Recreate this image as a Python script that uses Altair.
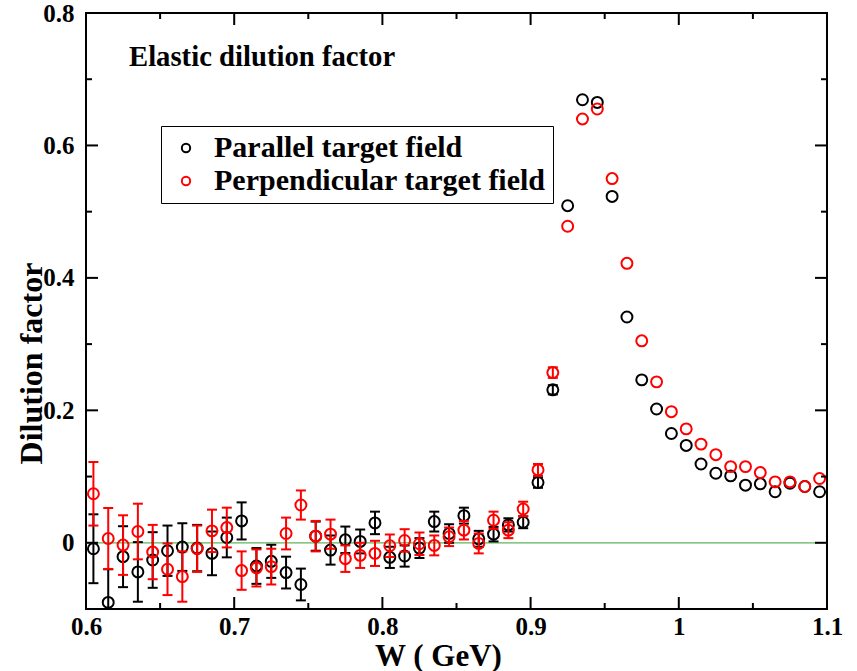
import altair as alt
import pandas as pd

W = [0.605, 0.615, 0.625, 0.635, 0.645, 0.655, 0.665, 0.675, 0.685, 0.695,
     0.705, 0.715, 0.725, 0.735, 0.745, 0.755, 0.765, 0.775, 0.785, 0.795,
     0.805, 0.815, 0.825, 0.835, 0.845, 0.855, 0.865, 0.875, 0.885, 0.895,
     0.905, 0.915, 0.925, 0.935, 0.945, 0.955, 0.965, 0.975, 0.985, 0.995,
     1.005, 1.015, 1.025, 1.035, 1.045, 1.055, 1.065, 1.075, 1.085, 1.095]

par = [-0.009, -0.090, -0.021, -0.044, -0.026, -0.012, -0.0065, -0.008, -0.016, 0.008,
       0.033, -0.035, -0.028, -0.045, -0.063, 0.010, -0.011, 0.0045, 0.002, 0.030,
       -0.022, -0.020, -0.008, 0.032, 0.014, 0.041, 0.006, 0.013, 0.027, 0.031,
       0.091, 0.231, 0.509, 0.669, 0.665, 0.523, 0.341, 0.246, 0.202, 0.165,
       0.147, 0.119, 0.105, 0.101, 0.087, 0.089, 0.077, 0.090, 0.085, 0.077]
par_err = [0.052, 0.050, 0.046, 0.045, 0.042, 0.038, 0.036, 0.035, 0.033, 0.030,
           0.028, 0.027, 0.025, 0.024, 0.024, 0.022, 0.022, 0.020, 0.018, 0.017,
           0.016, 0.016, 0.015, 0.015, 0.014, 0.012, 0.012, 0.011, 0.010, 0.009,
           0.008, 0.007, 0.0, 0.0, 0.0, 0.0, 0.0, 0.0, 0.0, 0.0,
           0.0, 0.0, 0.0, 0.0, 0.0, 0.0, 0.0, 0.0, 0.0, 0.0]

perp = [0.074, 0.0065, -0.0035, 0.017, -0.014, -0.040, -0.051, -0.009, 0.018, 0.023,
        -0.042, -0.038, -0.036, 0.014, 0.057, 0.010, 0.013, -0.024, -0.019, -0.016,
        -0.0045, 0.0035, -0.0015, -0.004, 0.009, 0.019, -0.001, 0.034, 0.019, 0.051,
        0.110, 0.257, 0.478, 0.640, 0.655, 0.550, 0.422, 0.305, 0.243, 0.198,
        0.172, 0.149, 0.133, 0.115, 0.115, 0.106, 0.092, 0.092, 0.085, 0.097]
perp_err = [0.048, 0.046, 0.045, 0.042, 0.041, 0.039, 0.038, 0.035, 0.032, 0.030,
            0.029, 0.028, 0.027, 0.024, 0.022, 0.023, 0.022, 0.020, 0.019, 0.019,
            0.017, 0.017, 0.017, 0.015, 0.014, 0.014, 0.015, 0.013, 0.012, 0.011,
            0.009, 0.008, 0.0, 0.0, 0.0, 0.0, 0.0, 0.0, 0.0, 0.0,
            0.0, 0.0, 0.0, 0.0, 0.0, 0.0, 0.0, 0.0, 0.0, 0.0]

series_names = ["Parallel target field", "Perpendicular target field"]
series_colors = ["black", "red"]

x_major = [0.6, 0.7, 0.8, 0.9, 1.0, 1.1]
x_minor = [0.65, 0.75, 0.85, 0.95, 1.05]
y_major = [0.0, 0.2, 0.4, 0.6, 0.8]
y_minor = [-0.1, 0.1, 0.3, 0.5, 0.7]

FONT = "Liberation Serif"
PW, PH = 741, 596

rows = []
for name, vals, errs in [(series_names[0], par, par_err), (series_names[1], perp, perp_err)]:
    for w, v, e in zip(W, vals, errs):
        rows.append({"W": w, "f": v, "e": e, "lo": v - e, "hi": v + e, "series": name})
df = pd.DataFrame(rows)
dfe = df[df.e > 0]
caps = pd.concat([
    dfe[["W", "lo", "series"]].rename(columns={"lo": "c"}),
    dfe[["W", "hi", "series"]].rename(columns={"hi": "c"}),
])

xscale = alt.Scale(domain=[0.6, 1.1], nice=False, zero=False)
yscale = alt.Scale(domain=[-0.1, 0.8], nice=False, zero=False)
xaxis = alt.Axis(values=x_major, labelExpr="format(datum.value, '~g')", domain=False, ticks=False,
                 grid=False, labelPadding=5, title="W ( GeV)",
                 titleX=352, titleY=56, titleAlign="center", titleBaseline="alphabetic",
                 titleFontSize=31, labelFlush=False)
yaxis = alt.Axis(values=y_major, labelExpr="format(datum.value, '~g')", domain=False, ticks=False,
                 grid=False, labelPadding=12, title="Dilution factor",
                 titleX=-38, titleY=350, titleAngle=270, titleAlign="center", titleBaseline="bottom",
                 titleFontSize=32, labelFlush=False)

X = lambda f: alt.X(f, type="quantitative", scale=xscale, axis=xaxis, title="W ( GeV)")
Y = lambda f: alt.Y(f, type="quantitative", scale=yscale, axis=yaxis, title="Dilution factor")

color = alt.Color("series:N", scale=alt.Scale(domain=series_names, range=series_colors),
                  legend=alt.Legend(title=None, orient="none", legendX=75, legendY=113,
                                    strokeColor="black", fillColor="white", padding=7,
                                    symbolType="circle", symbolSize=70, symbolStrokeWidth=2,
                                    symbolOffset=3, labelOffset=13,
                                    labelFont=FONT, labelFontWeight="bold", labelFontSize=30,
                                    labelColor="black", rowPadding=3, labelLimit=600))

zero = alt.Chart(pd.DataFrame({"f": [0.0]})).mark_rule(color="#5fb35a", strokeWidth=1.2).encode(y=Y("f"))

layers = [zero]
for name, col in zip(series_names, series_colors):
    d = df[df.series == name]
    de = dfe[dfe.series == name]
    c = caps[caps.series == name]
    layers.append(alt.Chart(de).mark_rule(strokeWidth=2, clip=True, color=col).encode(
        x=X("W"), y=Y("lo"), y2="hi"))
    layers.append(alt.Chart(c).mark_tick(orient="horizontal", size=10, thickness=2, clip=True,
                                         opacity=1, color=col).encode(
        x=X("W"), y=Y("c")))
    layers.append(alt.Chart(d).mark_point(shape="circle", filled=False, size=120, strokeWidth=2,
                                          opacity=1, clip=True).encode(
        x=X("W"), y=Y("f"), color=color))

# frame ticks (inward)
def xticks(vals, length):
    t = pd.DataFrame({"W": vals})
    b = alt.Chart(t).mark_rule(color="black", strokeWidth=2).encode(
        x=X("W"), y=alt.value(PH), y2=alt.value(PH - length))
    tp = alt.Chart(t).mark_rule(color="black", strokeWidth=2).encode(
        x=X("W"), y=alt.value(0), y2=alt.value(length))
    return [b, tp]

def yticks(vals, length):
    t = pd.DataFrame({"f": vals})
    l = alt.Chart(t).mark_rule(color="black", strokeWidth=2).encode(
        y=Y("f"), x=alt.value(0), x2=alt.value(length))
    r = alt.Chart(t).mark_rule(color="black", strokeWidth=2).encode(
        y=Y("f"), x=alt.value(PW), x2=alt.value(PW - length))
    return [l, r]

layers += xticks(x_major, 12) + xticks(x_minor, 6) + yticks(y_major, 12) + yticks(y_minor, 6)

title_df = pd.DataFrame({"label": ["Elastic dilution factor"]})
title = alt.Chart(title_df).mark_text(font=FONT, fontWeight="bold", fontSize=28.7, color="black",
                                      align="left", baseline="middle").encode(
    text="label:N", x=alt.value(43), y=alt.value(44))
layers.append(title)

chart = alt.layer(*layers).properties(
    width=PW, height=PH,
    padding={"left": 86, "top": 13, "right": 30, "bottom": 62},
    autosize=alt.AutoSizeParams(type="none"),
    background="white",
).configure_view(stroke="black", strokeWidth=2).configure_axis(
    labelFont=FONT, labelFontWeight="bold", labelFontSize=25, labelColor="black",
    titleFont=FONT, titleFontWeight="bold", titleColor="black",
).configure_legend(labelFont=FONT, labelFontWeight="bold")

chart.save("out.html", embed_options={"renderer": "svg", "actions": False})
